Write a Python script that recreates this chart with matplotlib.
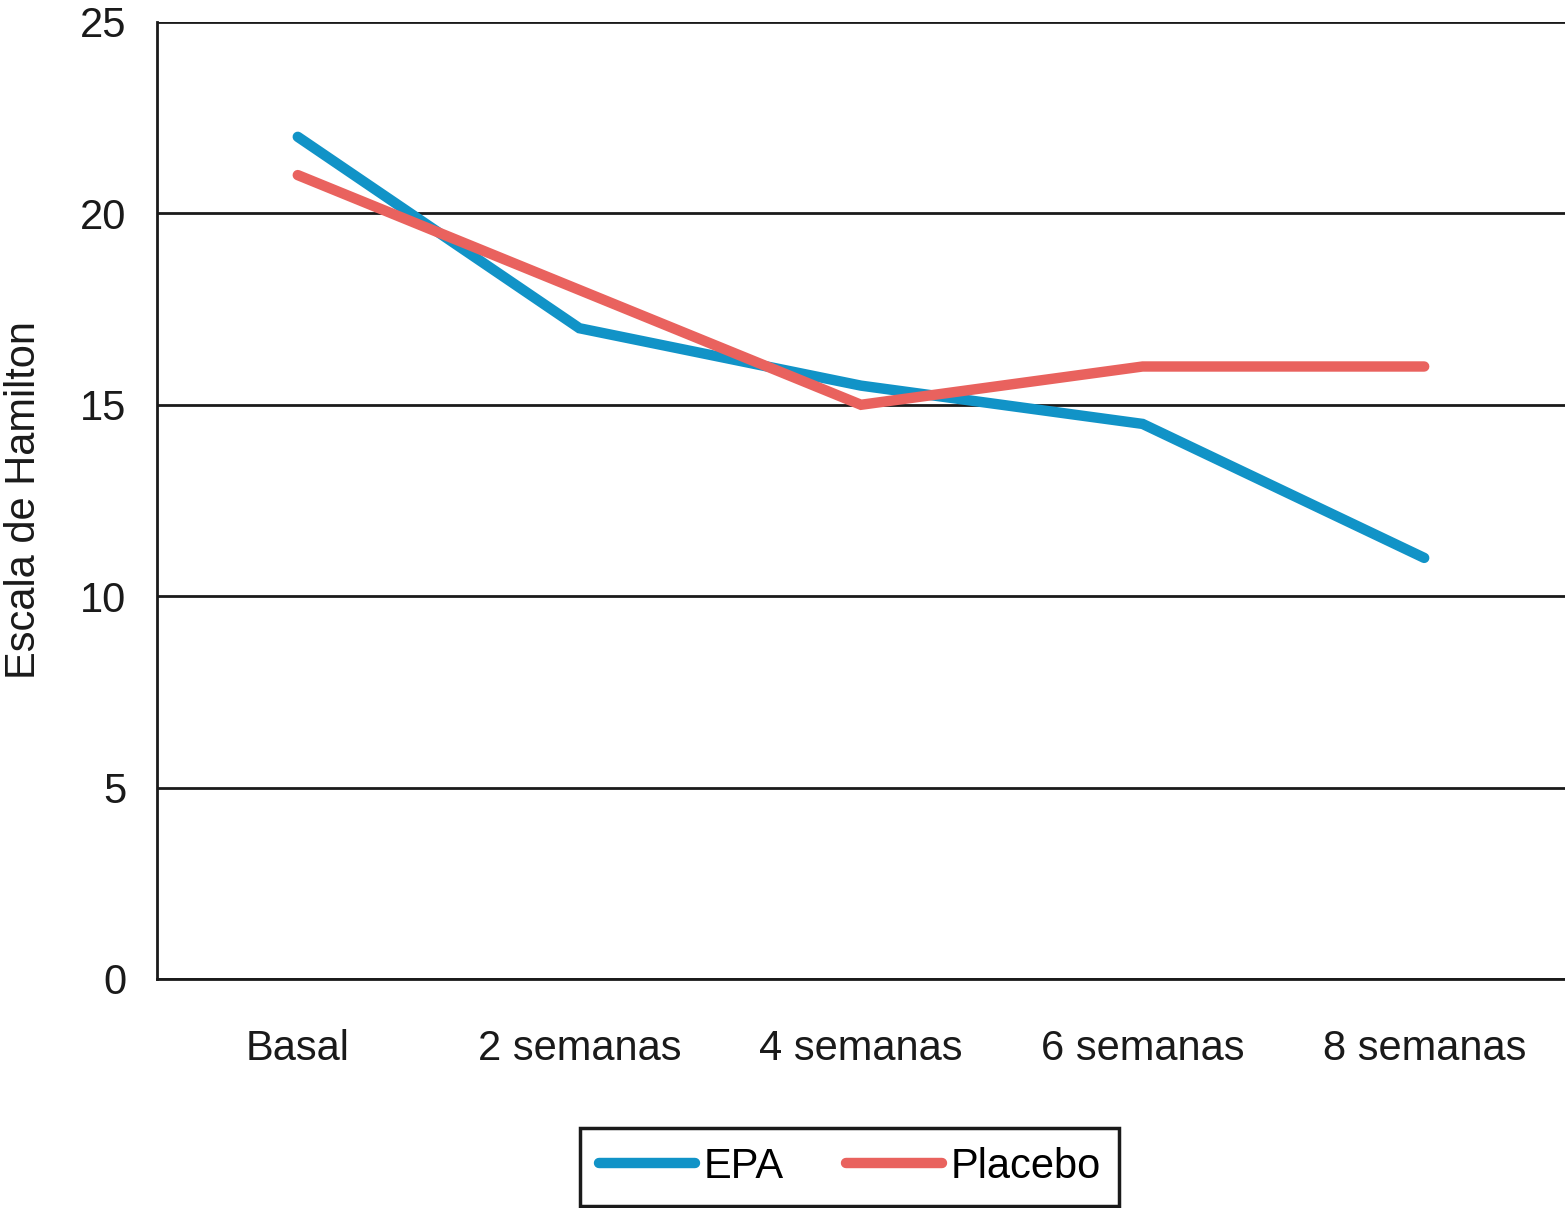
import matplotlib
matplotlib.use("Agg")
from matplotlib import pyplot as plt

plt.rcParams['font.family'] = ['Liberation Sans', 'DejaVu Sans']

categories = ["Basal", "2 semanas", "4 semanas", "6 semanas", "8 semanas"]
epa = [22, 17, 15.5, 14.5, 11]
placebo = [21, 18, 15, 16, 16]
yticks = [0, 5, 10, 15, 20, 25]

fig = plt.figure(figsize=(15.65, 12.08), dpi=100)
ax = fig.add_axes([0.1003, 0.1896, 0.8997, 0.7922])

x = range(len(categories))
ax.plot(x, epa, color="#1193c7", lw=7.5, solid_capstyle="round", solid_joinstyle="miter", label="EPA")
ax.plot(x, placebo, color="#e9625e", lw=7.5, solid_capstyle="round", solid_joinstyle="miter", label="Placebo")

ax.set_xlim(-0.5, 4.5)
ax.set_ylim(0, 25)
ax.set_yticks(yticks)
ax.set_xticks(list(x))
ax.set_xticklabels(categories)
ax.yaxis.grid(True, color="#1a1a1a", lw=2)
ax.set_axisbelow(True)
for s in ["top", "right"]:
    ax.spines[s].set_visible(False)
ax.spines["left"].set_linewidth(2)
ax.spines["bottom"].set_linewidth(2)
ax.spines["left"].set_color("#1a1a1a")
ax.spines["bottom"].set_color("#1a1a1a")
ax.tick_params(axis="both", length=0, labelsize=30, colors="#1a1a1a")
ax.tick_params(axis="x", pad=36)
ax.tick_params(axis="y", pad=22)
ax.set_ylabel("Escala de Hamilton", fontsize=30, color="#1a1a1a", labelpad=26)

leg = fig.legend(loc="center", bbox_to_anchor=(0.543, 0.034), ncol=2, fontsize=30,
                 frameon=True, fancybox=False, edgecolor="#1a1a1a", framealpha=1,
                 handlelength=2.3, handletextpad=0.2, columnspacing=1.5, borderpad=0.45)
leg.get_frame().set_linewidth(2.5)

fig.savefig("out.png", dpi=100)
